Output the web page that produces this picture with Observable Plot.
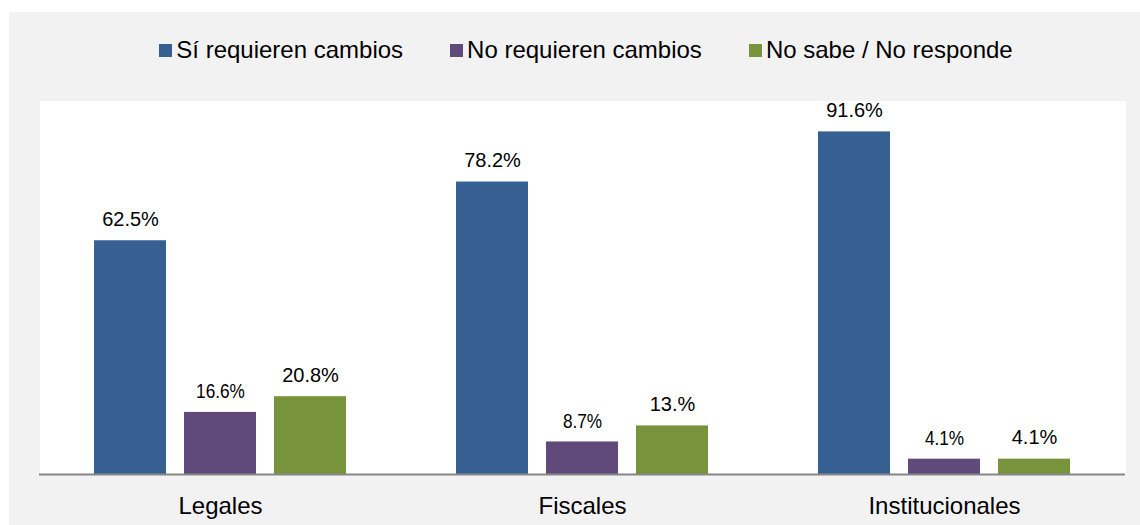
<!DOCTYPE html>
<html>
<head>
<meta charset="utf-8">
<script src="https://cdn.jsdelivr.net/npm/d3@7"></script>
<script src="https://cdn.jsdelivr.net/npm/@observablehq/plot@0.6"></script>
<style>
  html, body { margin: 0; padding: 0; background: #ffffff; }
  #chart {
    position: absolute; left: 9px; top: 12px; width: 1131px; height: 513px;
    background: #f2f2f2; font-family: "Liberation Sans", Arial, sans-serif; color: #000;
  }
  #legend {
    height: 88px; box-sizing: border-box; padding-top: 26px; padding-left: 23px;
    display: flex; justify-content: center; align-items: flex-start;
  }
  .item { display: flex; align-items: center; font-size: 24px; line-height: 24px; margin: 0 23.5px; white-space: nowrap; }
  .sw { width: 13px; height: 13px; margin-right: 4px; display: inline-block; }
  svg { display: block; }
</style>
</head>
<body>
<div id="chart"><div id="legend"></div></div>
<script>
const categories = ["Legales", "Fiscales", "Institucionales"];
const series = ["Sí requieren cambios", "No requieren cambios", "No sabe / No responde"];
const siValues = [62.5, 78.2, 91.6];
const noValues = [16.6, 8.7, 4.1];
const nsValues = [20.8, 13.0, 4.1];
const siLabels = ["62.5%", "78.2%", "91.6%"];
const noLabels = ["16.6%", "8.7%", "4.1%"];
const nsLabels = ["20.8%", "13.%", "4.1%"];
const colors = ["#376092", "#604A7B", "#77933C"];

const valueSets = [siValues, noValues, nsValues];
const labelSets = [siLabels, noLabels, nsLabels];
const rows = [];
categories.forEach((c, i) => {
  series.forEach((s, j) => {
    rows.push({category: c, series: s, value: valueSets[j][i], label: labelSets[j][i]});
  });
});

// Legend
const legend = document.getElementById("legend");
series.forEach((s, j) => {
  const it = document.createElement("div");
  it.className = "item";
  const sw = document.createElement("span");
  sw.className = "sw";
  sw.style.background = colors[j];
  it.appendChild(sw);
  it.appendChild(document.createTextNode(s));
  legend.appendChild(it);
});

const narrowRows = rows.filter(d => d.series === series[1]);
const wideRows = rows.filter(d => d.series !== series[1]);

const chart = Plot.plot({
  width: 1131,
  height: 425,
  marginTop: 0,
  marginBottom: 51,
  marginLeft: 29,
  marginRight: 14,
  style: {background: "transparent", fontFamily: "'Liberation Sans', Arial, sans-serif", overflow: "visible", color: "#000"},
  fx: {domain: categories, padding: 0, label: null},
  x: {domain: series, paddingInner: 0.2, paddingOuter: 0.6, axis: null},
  y: {domain: [0, 100], axis: null},
  color: {domain: series, range: colors},
  marks: [
    Plot.frame({fill: "white", stroke: "none", shapeRendering: "crispEdges"}),
    Plot.barY(rows, {fx: "category", x: "series", y: "value", fill: "series"}),
    Plot.ruleY([0], {stroke: "#868686", strokeWidth: 2}),
    Plot.text(wideRows, {fx: "category", x: "series", y: "value", text: "label", lineAnchor: "bottom", dy: -15, fontSize: 20, fill: "#000"}),
    Plot.text(narrowRows, {fx: "category", x: "series", y: "value", text: "label", lineAnchor: "bottom", dy: -14, fontSize: 21, fill: "#000", className: "narrowlbl"}),
    Plot.axisFx({anchor: "bottom", tickSize: 0, tickPadding: 22, fontSize: 24, label: null, fill: "#000"})
  ]
});
// condensed look of the middle-series labels (as in the reference)
d3.select(chart).selectAll(".narrowlbl text").each(function() {
  const t = this.getAttribute("transform") || "";
  this.setAttribute("transform", t + " scale(0.82,1)");
});
document.getElementById("chart").appendChild(chart);
</script>
</body>
</html>
